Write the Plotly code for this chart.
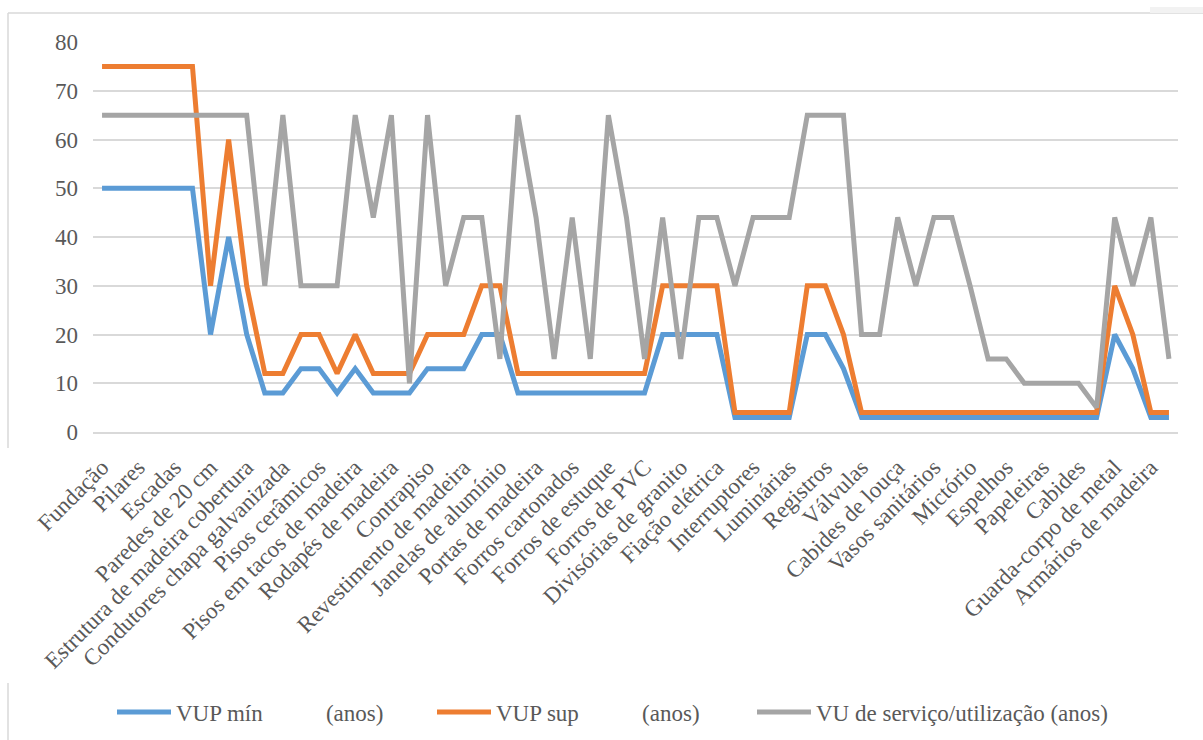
import plotly.graph_objects as go

# Componentes da edificação (rótulo exibido a cada duas categorias)
rotulos = [
    "Fundação", "Pilares", "Escadas", "Paredes de 20 cm",
    "Estrutura de madeira cobertura", "Condutores chapa galvanizada",
    "Pisos cerâmicos", "Pisos em tacos de madeira", "Rodapés de madeira",
    "Contrapiso", "Revestimento de madeira", "Janelas de alumínio",
    "Portas de madeira", "Forros cartonados", "Forros de estuque",
    "Forros de PVC", "Divisórias de granito", "Fiação elétrica",
    "Interruptores", "Luminárias", "Registros", "Válvulas",
    "Cabides de louça", "Vasos sanitários", "Mictório", "Espelhos",
    "Papeleiras", "Cabides", "Guarda-corpo de metal", "Armários de madeira",
]

# Vida útil (anos) por componente – 60 categorias
vup_min = [50, 50, 50, 50, 50, 50, 20, 40, 20, 8,
           8, 13, 13, 8, 13, 8, 8, 8, 13, 13,
           13, 20, 20, 8, 8, 8, 8, 8, 8, 8,
           8, 20, 20, 20, 20, 3, 3, 3, 3, 20,
           20, 13, 3, 3, 3, 3, 3, 3, 3, 3,
           3, 3, 3, 3, 3, 3, 20, 13, 3, 3]

vup_sup = [75, 75, 75, 75, 75, 75, 30, 60, 30, 12,
           12, 20, 20, 12, 20, 12, 12, 12, 20, 20,
           20, 30, 30, 12, 12, 12, 12, 12, 12, 12,
           12, 30, 30, 30, 30, 4, 4, 4, 4, 30,
           30, 20, 4, 4, 4, 4, 4, 4, 4, 4,
           4, 4, 4, 4, 4, 4, 30, 20, 4, 4]

vu_servico = [65, 65, 65, 65, 65, 65, 65, 65, 65, 30,
              65, 30, 30, 30, 65, 44, 65, 10, 65, 30,
              44, 44, 15, 65, 44, 15, 44, 15, 65, 44,
              15, 44, 15, 44, 44, 30, 44, 44, 44, 65,
              65, 65, 20, 20, 44, 30, 44, 44, 30, 15,
              15, 10, 10, 10, 10, 5, 44, 30, 44, 15]

nomes = [
    "VUP mín" + "\u00a0" * 11 + "(anos)",
    "VUP sup" + "\u00a0" * 11 + "(anos)",
    "VU de serviço/utilização (anos)",
]
cores = ["#5B9BD5", "#ED7D31", "#A5A5A5"]
larguras_legenda = [251, 251, 320]

posicoes = list(range(len(vup_min)))

fig = go.Figure()
for serie, nome, cor, lw in zip([vup_min, vup_sup, vu_servico], nomes, cores,
                                larguras_legenda):
    fig.add_trace(go.Scatter(
        x=posicoes, y=serie, mode="lines", name=nome,
        line=dict(color=cor, width=5), legendwidth=lw,
    ))

# Geometria da área de plotagem (px)
W, H = 1203, 740
ML, MR, MT, MB = 93, 25, 42, 308
PW, PH = W - ML - MR, H - MT - MB


def px_x(v):
    return (v - ML) / PW


def px_y(v):
    return (H - MB - v) / PH


borda = "#D9D9D9"
shapes = [
    dict(type="line", xref="paper", yref="paper",
         x0=px_x(8), x1=px_x(8), y0=px_y(13), y1=px_y(448),
         line=dict(color=borda, width=1.5)),
    dict(type="line", xref="paper", yref="paper",
         x0=px_x(8), x1=px_x(8), y0=px_y(683), y1=px_y(740),
         line=dict(color=borda, width=1.5)),
    dict(type="line", xref="paper", yref="paper",
         x0=px_x(8), x1=px_x(1203), y0=px_y(13), y1=px_y(13),
         line=dict(color=borda, width=1.5)),
    dict(type="rect", xref="paper", yref="paper",
         x0=px_x(1150), x1=px_x(1203), y0=px_y(13), y1=px_y(7),
         line=dict(width=0), fillcolor="#F2F2F2"),
]

texto = "#595959"
serif = "Liberation Serif"
fig.update_layout(
    width=W, height=H,
    margin=dict(l=ML, r=MR, t=MT, b=MB, autoexpand=False),
    paper_bgcolor="white", plot_bgcolor="white",
    font=dict(family=serif, size=23, color=texto),
    shapes=shapes,
    showlegend=True,
    legend=dict(
        orientation="h", x=px_x(112), xanchor="left",
        y=px_y(712), yanchor="middle", itemwidth=54,
        font=dict(family=serif, size=23, color=texto),
        bgcolor="rgba(0,0,0,0)",
    ),
    xaxis=dict(
        range=[-0.5, len(posicoes) - 0.5],
        tickmode="array", tickvals=posicoes[::2], ticktext=rotulos,
        tickangle=-45, showgrid=False, zeroline=False,
        showline=True, linecolor=borda, linewidth=1.5,
        ticks="", ticklabelstandoff=11,
        tickfont=dict(family=serif, size=23, color=texto),
    ),
    yaxis=dict(
        range=[0, 80], dtick=10, tick0=0,
        showgrid=True, gridcolor=borda, gridwidth=1.5,
        zeroline=False, showline=False,
        ticks="", ticklabelstandoff=14,
        tickfont=dict(family=serif, size=23, color=texto),
    ),
)

fig.write_html("out.html")
